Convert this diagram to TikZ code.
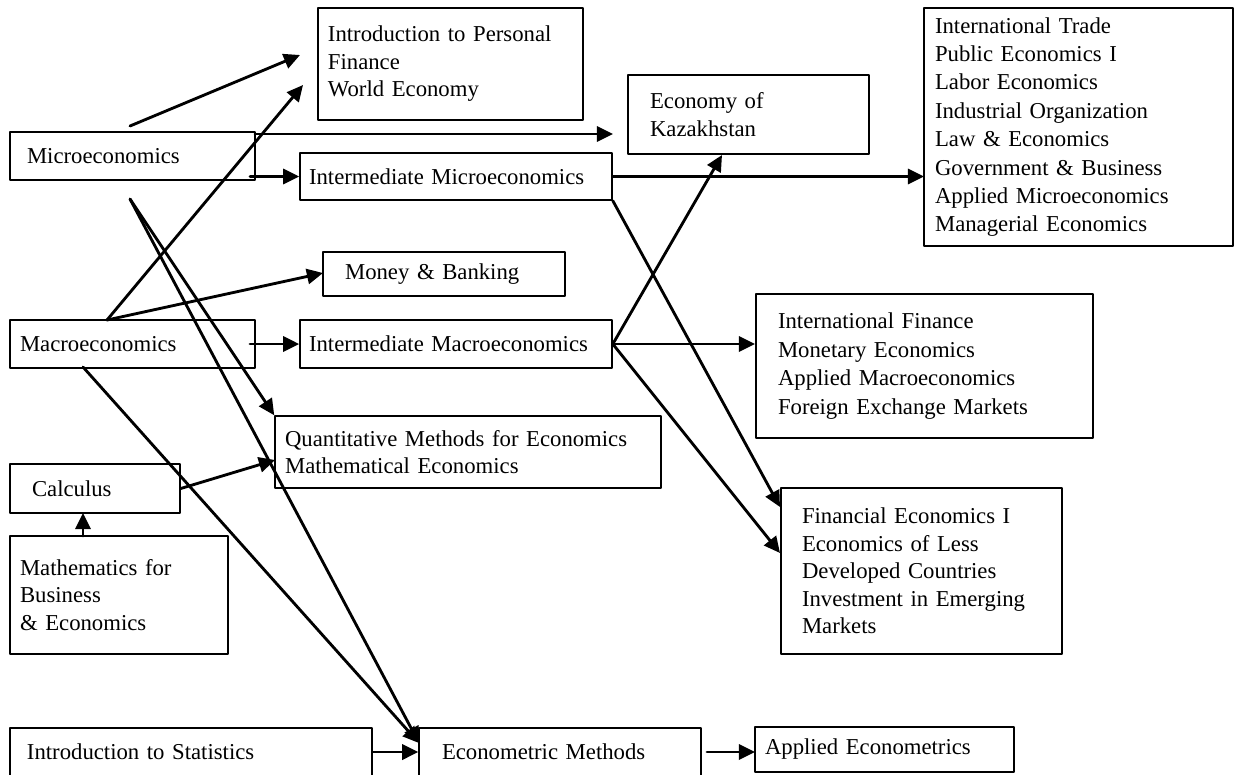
\documentclass[tikz,border=0pt]{standalone}
\usepackage{fontspec}
\setmainfont{Liberation Serif}
\usetikzlibrary{arrows.meta}
\tikzset{course/.style={draw,line width=0.8pt,align=left,inner ysep=0pt,font=\fontsize{12}{14.5}\selectfont},
  roomy/.style={font=\fontsize{12}{15}\selectfont}}
\begin{document}
\begin{tikzpicture}[x=0.528pt,y=-0.528pt,>={Triangle[length=8.5pt,width=8pt]},line join=round,line cap=round]
\useasboundingbox (0,0) rectangle (1235,774);
\clip (0,0) rectangle (1235,774);
% first year
\node[course,text width=111.4pt,inner xsep=9pt,minimum height=25.3pt] (micro) at (132.5,156) {Microeconomics};
\node[course,text width=118.8pt,inner xsep=5.3pt,minimum height=25.3pt] (macro) at (132.5,344) {Macroeconomics};
\node[course,text width=66.5pt,inner xsep=11.6pt,minimum height=25.9pt] (calc) at (95,488.5) {Calculus};
\node[course,text width=104.5pt,inner xsep=5.3pt,minimum height=62.3pt] (maths) at (119,595) {Mathematics for\\Business\\\& Economics\\[4pt]};
\node[course,text width=173.2pt,inner xsep=9pt,minimum height=25.3pt] (stats) at (191,752) {Introduction to Statistics};
% second year
\node[course,text width=129.4pt,inner xsep=5.3pt,minimum height=59.1pt] (pfin) at (450.5,64) {Introduction to Personal\\Finance\\World Economy};
\node[course,text width=155.2pt,inner xsep=4.8pt,minimum height=24.8pt] (intmicro) at (456,176.5) {Intermediate Microeconomics};
\node[course,text width=104.5pt,inner xsep=11.6pt,minimum height=23.2pt] (money) at (444,274) {Money \& Banking};
\node[course,text width=155.2pt,inner xsep=4.8pt,minimum height=25.3pt] (intmacro) at (456,344) {Intermediate Macroeconomics};
\node[course,text width=193.2pt,inner xsep=5.3pt,minimum height=38pt] (quant) at (468,452) {Quantitative Methods for Economics\\Mathematical Economics};
\node[course,text width=124.6pt,inner xsep=12.1pt,minimum height=25.3pt] (econ) at (560,752) {Econometric Methods};
% electives
\node[course,text width=104pt,inner xsep=11.6pt,minimum height=41.7pt] (kaz) at (748.5,114.5) {Economy of\\Kazakhstan};
\node[course,roomy,text width=151.5pt,inner xsep=5.8pt,minimum height=125.7pt] (trade) at (1078.5,127) {International Trade\\Public Economics I\\Labor Economics\\Industrial Organization\\Law \& Economics\\Government \& Business\\Applied Microeconomics\\Managerial Economics};
\node[course,roomy,text width=154.7pt,inner xsep=11.6pt,minimum height=76pt] (intfin) at (924.5,366) {International Finance\\Monetary Economics\\Applied Macroeconomics\\Foreign Exchange Markets\\[3pt]};
\node[course,text width=126.2pt,inner xsep=11.1pt,minimum height=87.6pt] (fin) at (921.5,571) {Financial Economics I\\Economics of Less\\Developed Countries\\Investment in Emerging\\Markets};
\node[course,text width=126.2pt,inner xsep=5.3pt,minimum height=23.8pt] (appl) at (884.5,749.5) {Applied Econometrics};
% free ends of the arrows
\path
(130,126) coordinate (microA)
(130,199) coordinate (microB)
(255,134) coordinate (microC)
(250,176.5) coordinate (microD)
(107,320) coordinate (macroA)
(83,367) coordinate (macroB)
(250,344) coordinate (macroD)
(83,536) coordinate (mathsA)
(83,513) coordinate (calcA)
(300,55) coordinate (pfinA)
(303,85) coordinate (pfinB)
(613,134) coordinate (kazA)
(722,155) coordinate (kazB)
(924,176.5) coordinate (tradeA)
(323,273) coordinate (moneyA)
(275,460) coordinate (quantA)
(755,344) coordinate (intfinA)
(780,507) coordinate (finA)
(780,553) coordinate (finB)
(419,743) coordinate (econA)
(707,752) coordinate (econB)
(755,752) coordinate (applA)
;
\foreach \a/\b in {microA/pfinA,macroA/pfinB,microC/kazA,microD/intmicro.west,intmicro.east/tradeA,intmicro.south east/finA,microB/quant.north west,microB/econA,macroA/moneyA,macroD/intmacro.west,macroB/econA,calc.east/quantA,mathsA/calcA,stats.east/econ.west,econB/applA,intmacro.east/intfinA,intmacro.east/kazB,intmacro.east/finB}
\draw[->,line width=1.5pt] (\a)--(\b);
\end{tikzpicture}
\end{document}
